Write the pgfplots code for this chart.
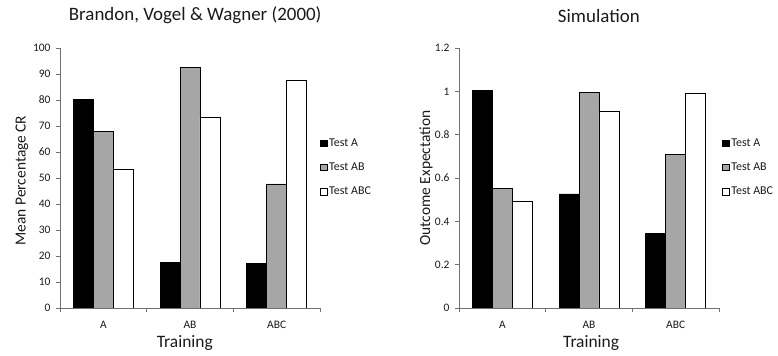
\documentclass[border=0pt]{standalone}
\usepackage{fontspec}
\setmainfont{Carlito}
\usepackage{pgfplots}
\pgfplotsset{compat=1.18}
\definecolor{barg}{HTML}{A6A6A6}
\definecolor{axgray}{HTML}{707070}
\definecolor{txt}{HTML}{1A1A1A}

\pgfplotsset{
  mystyle/.style={
    scale only axis, width=260bp, height=260bp,
    axis lines*=left,
    axis line style={axgray, line width=0.8bp},
    ybar=0pt, bar width=0.23,
    xmin=-0.5, xmax=2.5, ymin=0,
    xtick={-0.5,0.5,1.5,2.5}, xticklabels={},
    extra x ticks={0,1,2},
    extra x tick labels={A,AB,ABC},
    extra x tick style={major tick length=0pt, xticklabel style={yshift=-10bp}},
    tick align=outside,
    major tick length=4bp,
    tick style={axgray, line width=0.8bp},
    yticklabel style={xshift=-2bp},
    ticklabel style={font=\fontsize{11.5}{13}\selectfont, text=txt},
    /pgf/number format/assume math mode=true,
    title style={font=\fontsize{19}{22}\selectfont, text=txt, anchor=center},
    xlabel style={font=\fontsize{17.5}{20}\selectfont, text=txt, anchor=center},
    ylabel style={font=\fontsize{15.5}{18}\selectfont, text=txt, anchor=center},
    legend cell align=left,
    legend image code/.code={\draw[#1, line width=0.5bp] (0bp,-3bp) rectangle (6.5bp,3.5bp);},
    legend style={draw=none, fill=none, inner sep=0pt, anchor=west,
      font=\fontsize{12}{14}\selectfont, text=txt, row sep=11bp,
      /tikz/every even column/.append style={column sep=0pt}},
    every axis plot/.append style={draw=black, line width=0.6bp},
  }
}

\begin{document}
\begin{tikzpicture}
\path[use as bounding box] (0,0) rectangle (778bp,356bp);

\begin{axis}[mystyle, at={(60bp,48bp)}, anchor=south west,
  ymax=100, ytick={0,10,...,100},
  title={Brandon, Vogel \& Wagner (2000)},
  title style={at={(axis description cs:0.52,1.105)}},
  xlabel={Training},
  xlabel style={at={(axis description cs:0.48,-0.135)}},
  ylabel={Mean Percentage CR},
  ylabel style={at={(axis description cs:-0.146,0.49)}},
  legend style={at={(axis description cs:1.0,0.54)}},
]
\addplot[fill=black] coordinates {(0,80.3) (1,17.6) (2,17.0)};
\addplot[fill=barg] coordinates {(0,68.0) (1,92.4) (2,47.7)};
\addplot[fill=white] coordinates {(0,53.5) (1,73.2) (2,87.7)};
\legend{Test A, Test AB, Test ABC}
\end{axis}

\begin{axis}[mystyle, at={(459bp,48bp)}, anchor=south west,
  ymax=1.2, ytick={0,0.2,...,1.2},
  yticklabels={0,0.2,0.4,0.6,0.8,1,1.2},
  title={Simulation},
  title style={at={(axis description cs:0.538,1.1)}},
  xlabel={Training},
  xlabel style={at={(axis description cs:0.508,-0.135)}},
  ylabel={Outcome Expectation},
  ylabel style={at={(axis description cs:-0.127,0.5)}},
  legend style={at={(axis description cs:1.012,0.54)}},
]
\addplot[fill=black] coordinates {(0,1.005) (1,0.527) (2,0.345)};
\addplot[fill=barg] coordinates {(0,0.553) (1,0.995) (2,0.709)};
\addplot[fill=white] coordinates {(0,0.491) (1,0.906) (2,0.989)};
\legend{Test A, Test AB, Test ABC}
\end{axis}
\end{tikzpicture}
\end{document}
